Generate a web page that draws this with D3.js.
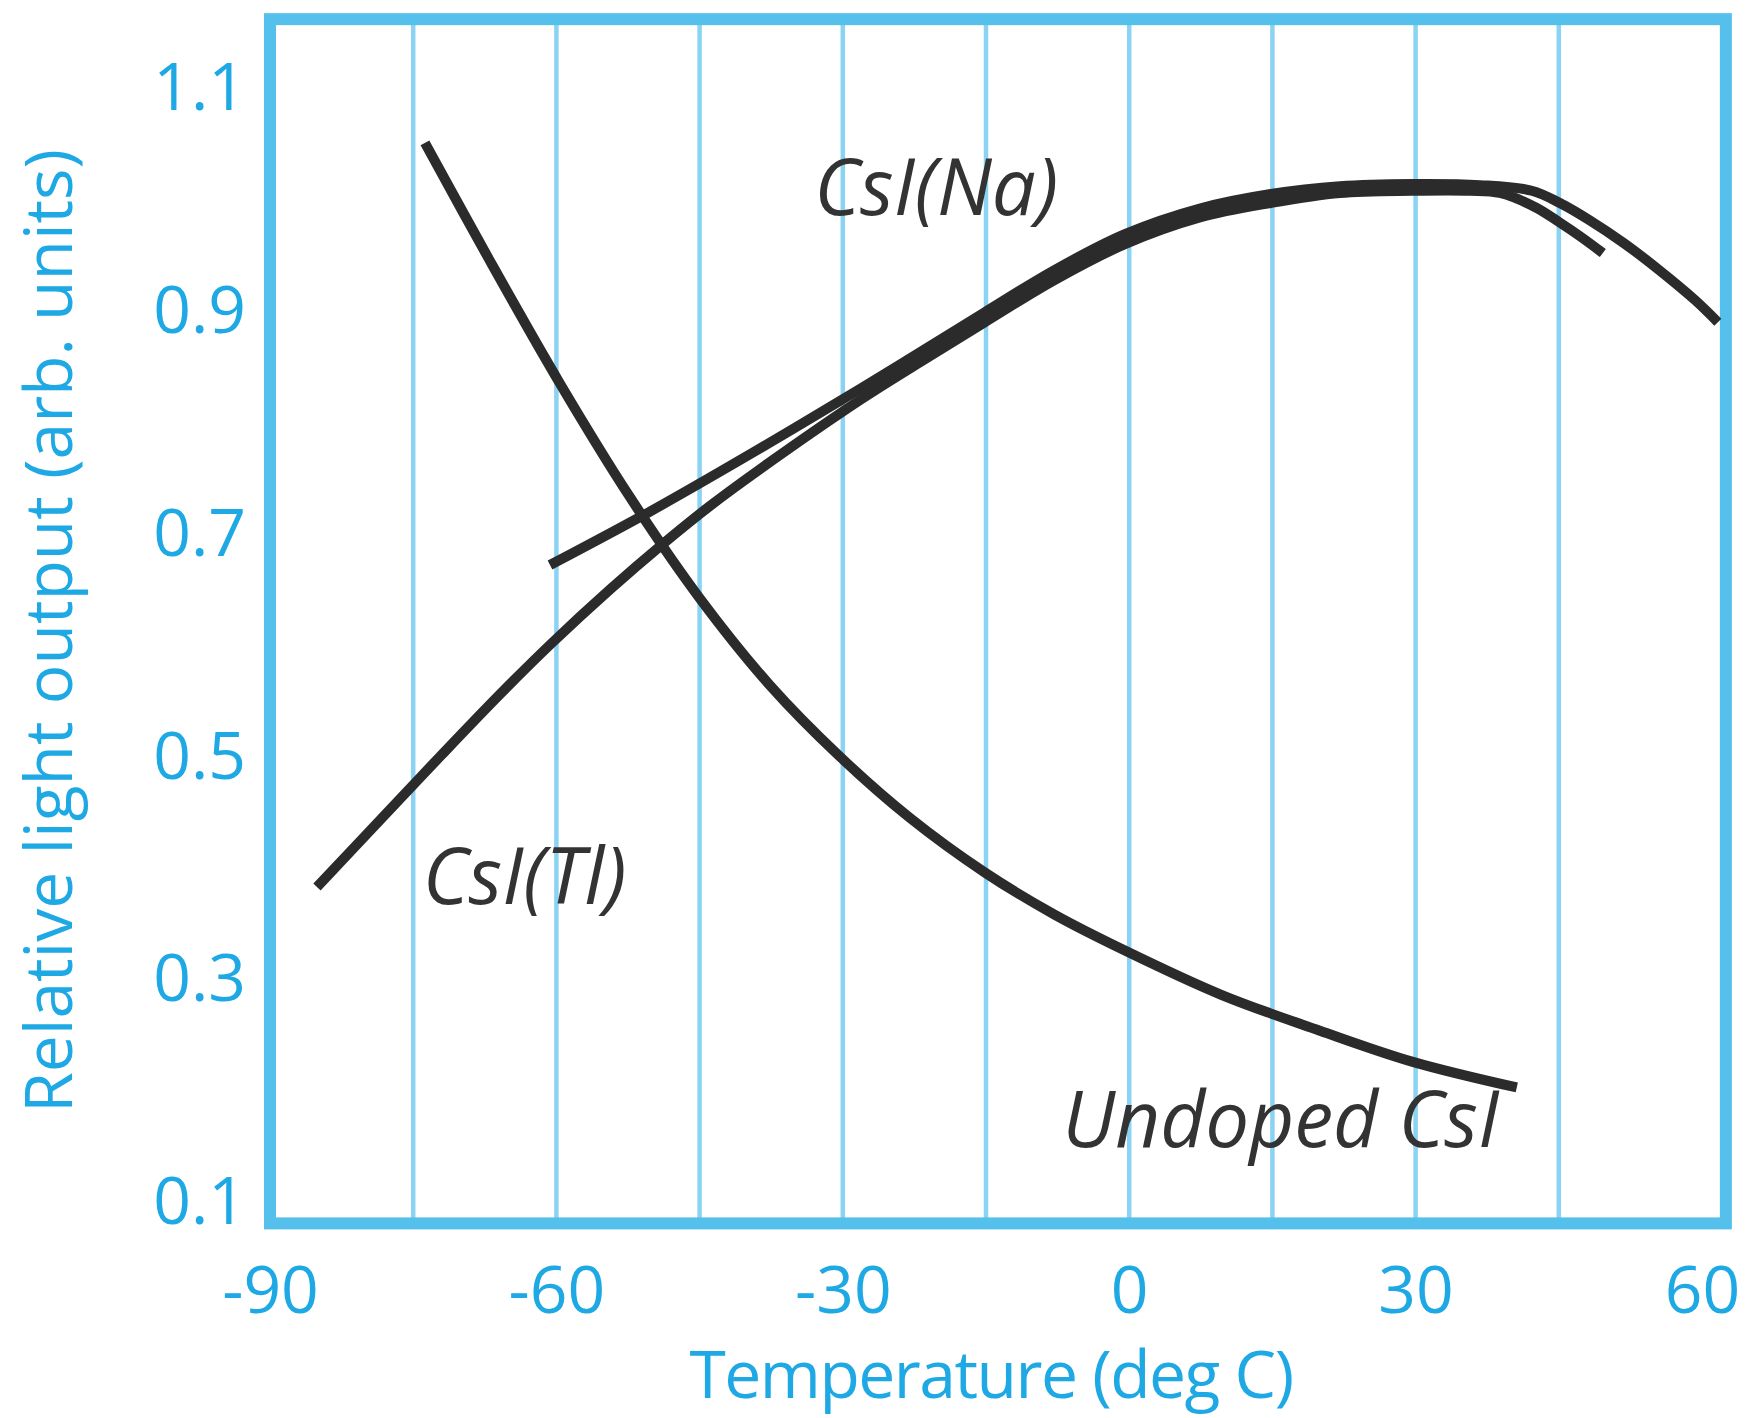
<!DOCTYPE html>
<html>
<head>
<meta charset="utf-8">
<script src="https://cdn.jsdelivr.net/npm/d3@7"></script>
<style>
  html, body { margin: 0; padding: 0; background: #ffffff; }
  svg { display: block; }
</style>
</head>
<body>
<svg id="chart" width="1754" height="1418"></svg>
<script>
// ---------------- data ----------------
const xTickValues = [-90, -60, -30, 0, 30, 60];
const yTickValues = [0.1, 0.3, 0.5, 0.7, 0.9, 1.1];
const gridValues = [-75, -60, -45, -30, -15, 0, 15, 30, 45];
const frameX = [-90, 62.5];
const frameY = [0.079, 1.16];

const xTitle = "Temperature (deg C)";
const yTitle = "Relative light output (arb. units)";

// CsI(Na): temperature (deg C) and relative light output
const naTemp  = [-60.67, -50.2, -39.41, -28.21, -21.92, -15.12, -7.78, -0.45, 7.4, 14.84, 22.07, 29.71, 36.73, 42.17, 45.11, 48.14, 51.81, 55.48, 59.25, 61.66];
const naLight = [0.670, 0.718, 0.771, 0.828, 0.861, 0.897, 0.935, 0.967, 0.990, 1.003, 1.010, 1.012, 1.011, 1.006, 0.995, 0.980, 0.959, 0.935, 0.908, 0.888];

// CsI(Tl)
const tlTemp  = [-85.08, -78.48, -72.2, -65.91, -60.47, -54.39, -48.84, -43.92, -38.68, -28.21, -21.92, -15.12, -7.78, -0.45, 7.4, 14.84, 22.07, 29.71, 35.68, 38.82, 42.59, 45.0, 47.41, 49.61];
const tlLight = [0.381, 0.441, 0.498, 0.554, 0.600, 0.648, 0.689, 0.723, 0.756, 0.818, 0.852, 0.888, 0.926, 0.958, 0.982, 0.995, 1.004, 1.006, 1.006, 1.004, 0.991, 0.978, 0.964, 0.950];

// Undoped CsI
const unTemp  = [-73.77, -66.96, -59.63, -52.3, -44.97, -37.63, -30.3, -22.97, -15.12, -7.78, -0.45, 9.71, 19.97, 29.71, 40.6];
const unLight = [1.049, 0.943, 0.833, 0.731, 0.640, 0.562, 0.498, 0.443, 0.394, 0.356, 0.324, 0.284, 0.252, 0.224, 0.201];

const seriesLabels = [
  { name: "CsI(Na)", t: -33.0, v: 0.984 },
  { name: "CsI(Tl)", t: -74.0, v: 0.3655 },
  { name: "Undoped CsI", t: -7.0, v: 0.1474 }
];

// ---------------- drawing ----------------
const svg = d3.select("#chart");
const blue = "#1fa9e4";
const frameBlue = "#55c0ec";
const gridBlue = "#8ad3f3";
const ink = "#2b2b2b";
const font = "'Open Sans', 'Noto Sans', sans-serif";

const x = d3.scaleLinear().domain([-90, 60]).range([270, 1702]);
const y = d3.scaleLinear().domain([0.1, 1.1]).range([1200, 86]);

// vertical grid lines
svg.append("g").selectAll("line").data(gridValues).join("line")
  .attr("x1", d => x(d)).attr("x2", d => x(d))
  .attr("y1", y(frameY[1])).attr("y2", y(frameY[0]))
  .attr("stroke", gridBlue).attr("stroke-width", 4.5);

// frame
svg.append("rect")
  .attr("x", x(frameX[0])).attr("y", y(frameY[1]))
  .attr("width", x(frameX[1]) - x(frameX[0]))
  .attr("height", y(frameY[0]) - y(frameY[1]))
  .attr("fill", "none").attr("stroke", frameBlue).attr("stroke-width", 12);

// axes (labels only)
const xAxis = d3.axisBottom(x).tickValues(xTickValues).tickSize(0).tickPadding(0).tickFormat(d => String(d));
const gx = svg.append("g").attr("transform", `translate(0,${y(frameY[0])})`).call(xAxis);
gx.select(".domain").remove();
gx.selectAll("text")
  .attr("y", 90).attr("dy", null)
  .attr("fill", blue).attr("font-family", font).attr("font-size", 66);

const yAxis = d3.axisLeft(y).tickValues(yTickValues).tickSize(0).tickPadding(0).tickFormat(d3.format(".1f"));
const gy = svg.append("g").attr("transform", `translate(${x(frameX[0]) - 24},0)`).call(yAxis);
gy.select(".domain").remove();
gy.selectAll("text")
  .attr("dy", "0.36em")
  .attr("fill", blue).attr("font-family", font).attr("font-size", 66);

// axis titles
svg.append("text")
  .attr("x", (x(-90) + x(60)) / 2 + 5).attr("y", 1398)
  .attr("text-anchor", "middle")
  .attr("fill", blue).attr("font-family", font).attr("font-size", 66)
  .attr("letter-spacing", -1.5)
  .text(xTitle);

svg.append("text")
  .attr("transform", `translate(72,${(y(1.1) + y(0.1)) / 2 - 12}) rotate(-90)`)
  .attr("text-anchor", "middle")
  .attr("fill", blue).attr("font-family", font).attr("font-size", 66)
  .text(yTitle);

// curves
const line = d3.line()
  .x(d => x(d[0])).y(d => y(d[1]))
  .curve(d3.curveCatmullRom.alpha(0.5));

const series = [
  d3.zip(unTemp, unLight),
  d3.zip(tlTemp, tlLight),
  d3.zip(naTemp, naLight)
];

svg.append("g").selectAll("path").data(series).join("path")
  .attr("d", line)
  .attr("fill", "none")
  .attr("stroke", ink)
  .attr("stroke-width", 10)
  .attr("stroke-linecap", "butt")
  .attr("stroke-linejoin", "round");

// series labels
svg.append("g").selectAll("text").data(seriesLabels).join("text")
  .attr("x", d => x(d.t)).attr("y", d => y(d.v))
  .attr("fill", "#333333")
  .attr("font-family", font)
  .attr("font-style", "italic")
  .attr("font-size", 78)
  .text(d => d.name);
</script>
</body>
</html>
